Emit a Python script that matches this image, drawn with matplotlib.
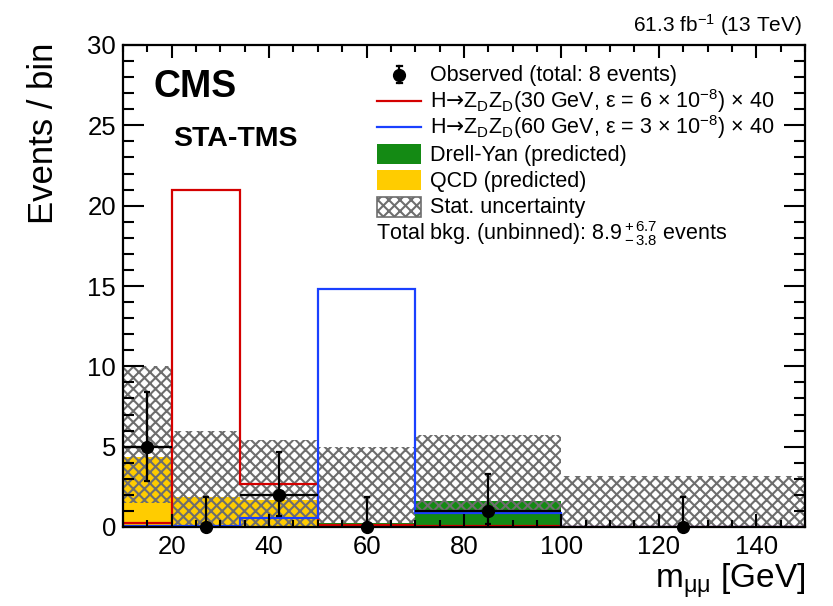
import matplotlib
matplotlib.use("Agg")
import matplotlib.pyplot as plt
from matplotlib.lines import Line2D
from matplotlib.patches import Rectangle
import numpy as np

plt.rcParams['font.family'] = ['Liberation Sans', 'DejaVu Sans']
plt.rcParams['mathtext.fontset'] = 'custom'
plt.rcParams['mathtext.rm'] = 'Liberation Sans'
plt.rcParams['mathtext.it'] = 'Liberation Sans:italic'
plt.rcParams['mathtext.bf'] = 'Liberation Sans:bold'
plt.rcParams['mathtext.sf'] = 'DejaVu Sans'
plt.rcParams['hatch.linewidth'] = 1.5

# bordes de bins en m_mumu [GeV]
bordes = [10, 20, 34, 50, 70, 100, 150]
centros = [15, 27, 42, 60, 85, 125]

# fondos predichos (apilados)
qcd = [4.35, 1.85, 1.65, 0.0, 0.0, 0.0]
drell_yan = [0.0, 0.0, 0.0, 0.25, 1.6, 0.0]

# banda de incertidumbre estadistica
unc_baja = [1.5, 0.0, 0.0, 0.25, 1.0, 0.0]
unc_alta = [10.0, 6.0, 5.4, 5.0, 5.7, 3.2]

# senales x40
senal_30 = [0.25, 21.0, 2.7, 0.1, 0.05, 0.0]
senal_60 = [0.05, 0.05, 0.55, 14.8, 0.9, 0.02]

# datos observados
obs = [5, 0, 2, 0, 1, 0]
err_abajo = [2.16, 0.0, 1.29, 0.0, 0.83, 0.0]
err_arriba = [3.38, 1.84, 2.64, 1.84, 2.30, 1.84]

ROJO = '#d40000'
AZUL = '#1a40ff'
VERDE = '#148a14'
AMARILLO = '#ffcc00'
GRIS = '#6e6e6e'
TRAMA = 'xxx'

W, H = 833, 606
fig = plt.figure(figsize=(W / 100, H / 100), dpi=100)
ax = fig.add_axes([123 / W, 1 - 527 / H, 682 / W, 482 / H])

# pila de fondos
ax.stairs(qcd, bordes, fill=True, color=AMARILLO, linewidth=0)
tope = np.array(qcd) + np.array(drell_yan)
ax.stairs(tope, bordes, baseline=qcd, fill=True, color=VERDE, linewidth=0)

# incertidumbre
ax.stairs(unc_alta, bordes, baseline=unc_baja, fill=True, facecolor='none',
          edgecolor=GRIS, hatch=TRAMA, linewidth=0)

# senales
ax.stairs(senal_30, bordes, color=ROJO, linewidth=1.6)
ax.stairs(senal_60, bordes, color=AZUL, linewidth=1.6)

# datos
anchos = np.diff(bordes) / 2.0
xerr = [a if o > 0 else 0 for a, o in zip(anchos, obs)]
ax.errorbar(centros, obs, xerr=xerr, fmt='none', ecolor='black', elinewidth=1.6,
            capsize=0, zorder=5)
ax.errorbar(centros, obs, yerr=[err_abajo, err_arriba], fmt='o', color='black',
            markersize=8.5, elinewidth=1.6, capsize=2.5, capthick=1.6,
            zorder=6, clip_on=False)

ax.set_xlim(10, 150)
ax.set_ylim(0, 30)
ax.set_xticks([20, 40, 60, 80, 100, 120, 140])
ax.set_xticks(np.arange(10, 151, 5), minor=True)
ax.set_yticks([0, 5, 10, 15, 20, 25, 30])
ax.set_yticks(np.arange(0, 31, 1), minor=True)
for s in ax.spines.values():
    s.set_linewidth(1.6)
ax.tick_params(axis='both', direction='in', top=True, right=True, which='both',
               width=1.5, labelsize=18.5)
ax.tick_params(axis='x', which='major', length=9.5, pad=6)
ax.tick_params(axis='x', which='minor', length=4.8)
ax.tick_params(axis='y', which='major', length=15, pad=5)
ax.tick_params(axis='y', which='minor', length=8)

ax.set_xlabel(r'm$_{\mathrm{μμ}}$ [GeV]', fontsize=24, loc='right')
ax.xaxis.set_label_coords(1.0, -0.072)
ax.set_ylabel('Events / bin', fontsize=25, loc='top')
ax.yaxis.set_label_coords(-0.093, 1.005)

ax.text(0.044, 0.892, 'CMS', transform=ax.transAxes, fontsize=27,
        fontweight='bold', va='baseline')
ax.text(0.073, 0.790, 'STA-TMS', transform=ax.transAxes, fontsize=20.5,
        fontweight='bold', va='baseline')
fig.text(802 / W, 1 - 32 / H, r'61.3 fb$^{\mathrm{-1}}$ (13 TeV)', fontsize=15,
         ha='right', va='baseline')

# leyenda (dibujada a mano para fijar el espaciado de filas)
etiquetas = [
    'Observed (total: 8 events)',
    r'H$\mathsf{→}$Z$_{\mathrm{D}}$Z$_{\mathrm{D}}$(30 GeV, ε = 6 × 10$^{\mathrm{-8}}$) × 40',
    r'H$\mathsf{→}$Z$_{\mathrm{D}}$Z$_{\mathrm{D}}$(60 GeV, ε = 3 × 10$^{\mathrm{-8}}$) × 40',
    'Drell-Yan (predicted)',
    'QCD (predicted)',
    'Stat. uncertainty',
]
paso = 26.4
x0, x1, xt = 377, 421, 430
xm = (x0 + x1) / 2
for i, txt in enumerate(etiquetas):
    yb = 81.5 + i * paso          # linea base del texto (px desde arriba)
    yc = yb - 7                    # centro visual de la fila
    fig.text(xt / W, 1 - yb / H, txt, fontsize=15.5, va='baseline', ha='left')
    fy = 1 - yc / H
    if i == 0:
        fig.add_artist(Line2D([xm / W] * 2, [1 - (yc - 9) / H, 1 - (yc + 8.5) / H],
                              color='black', linewidth=1.6))
        for yy in (yc - 9, yc + 8.5):
            fig.add_artist(Line2D([(xm - 2.5) / W, (xm + 2.5) / W],
                                  [1 - yy / H] * 2, color='black', linewidth=1.6))
        fig.add_artist(Line2D([xm / W], [fy], marker='o', color='black',
                              markersize=8.5, linestyle='none'))
    elif i in (1, 2):
        fig.add_artist(Line2D([x0 / W, x1 / W], [fy, fy], color=[ROJO, AZUL][i - 1],
                              linewidth=1.6))
    else:
        estilo = {3: dict(facecolor=VERDE, edgecolor='none'),
                  4: dict(facecolor=AMARILLO, edgecolor='none'),
                  5: dict(facecolor='white', edgecolor=GRIS, hatch=TRAMA, linewidth=1.2)}[i]
        fig.add_artist(Rectangle((x0 / W, 1 - (yc + 10) / H), (x1 - x0) / W, 20 / H,
                                 transform=fig.transFigure, **estilo))

fig.text(376 / W, 1 - 240 / H,
         r'Total bkg. (unbinned): 8.9$\,^{\mathrm{+\,6.7}}_{\mathrm{-\,3.8}}$ events',
         fontsize=15.5, va='baseline', ha='left')

fig.savefig('out.png', dpi=100)
